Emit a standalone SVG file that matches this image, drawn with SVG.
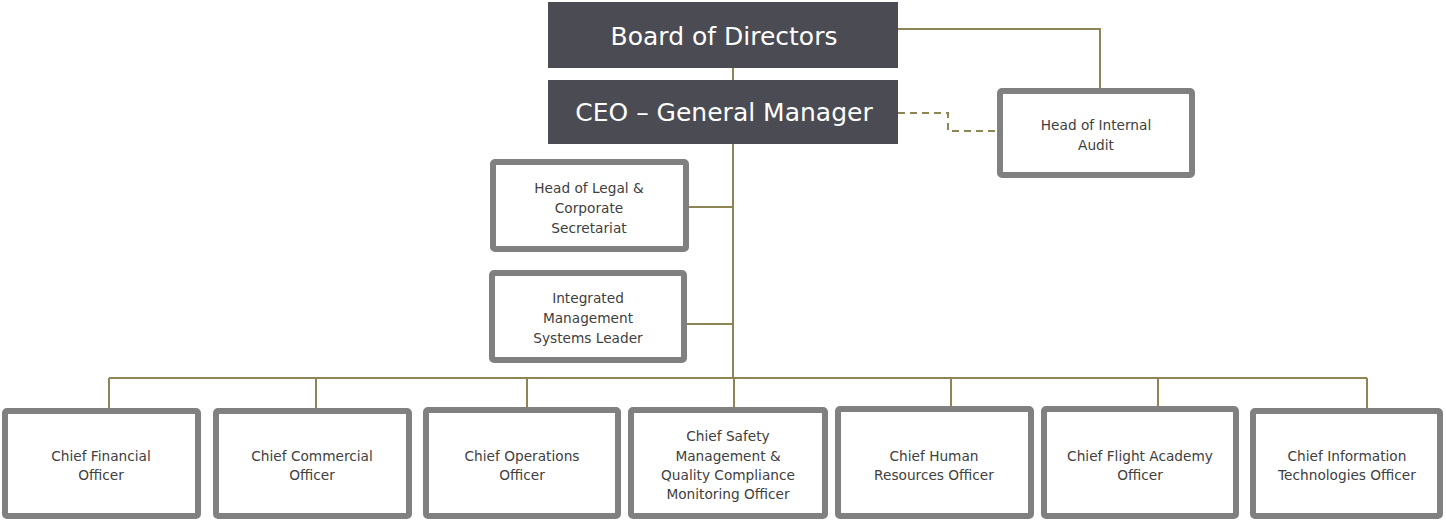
<svg xmlns="http://www.w3.org/2000/svg" width="1446" height="521" viewBox="0 0 1446 521">
<style>
.dark{fill:#4b4b53}
.big{font-family:"DejaVu Sans",Verdana,sans-serif;font-size:25px;fill:#ffffff;text-anchor:middle}
.box{fill:#ffffff;stroke:#808080;stroke-width:6}
.t{font-family:"DejaVu Sans",Verdana,sans-serif;font-size:13.7px;fill:#404040;text-anchor:middle}
.ln{fill:none;stroke:#8e8555;stroke-width:2}
.dash{fill:none;stroke:#8e8555;stroke-width:2;stroke-dasharray:7 5}
</style>
<rect width="1446" height="521" fill="#ffffff"/>
<g id="connectors">
<path class="ln" d="M733 68V80"/>
<path class="ln" d="M898 29H1100V88"/>
<path class="dash" d="M898 113H948V131H997"/>
<path class="ln" d="M733 144V378"/>
<path class="ln" d="M689 207H733"/>
<path class="ln" d="M687 324H733"/>
<path class="ln" d="M109 378H1367"/>
<path class="ln" d="M109 378V408M316 378V408M527 378V407M734 378V407M951 378V406M1158 378V406M1367 378V408"/>
</g>
<g id="board">
<rect class="dark" x="548" y="2" width="350" height="66"/>
<text class="big" x="724" y="45">Board of Directors</text>
</g>
<g id="ceo">
<rect class="dark" x="548" y="80" width="350" height="64"/>
<text class="big" x="724" y="121">CEO – General Manager</text>
</g>
<g id="audit">
<rect class="box" x="1000" y="91" width="192" height="84" rx="2"/>
<text class="t" x="1096" y="130">Head of Internal</text>
<text class="t" x="1096" y="150">Audit</text>
</g>
<g id="legal">
<rect class="box" x="493" y="162" width="193" height="87" rx="2"/>
<text class="t" x="589" y="193">Head of Legal &amp;</text>
<text class="t" x="589" y="213">Corporate</text>
<text class="t" x="589" y="233">Secretariat</text>
</g>
<g id="ims">
<rect class="box" x="492" y="273" width="192" height="87" rx="2"/>
<text class="t" x="588" y="303">Integrated</text>
<text class="t" x="588" y="323">Management</text>
<text class="t" x="588" y="343">Systems Leader</text>
</g>
<g id="cfo">
<rect class="box" x="5" y="411" width="193" height="105" rx="2"/>
<text class="t" x="101" y="461">Chief Financial</text>
<text class="t" x="101" y="480">Officer</text>
</g>
<g id="cco">
<rect class="box" x="216" y="411" width="193" height="105" rx="2"/>
<text class="t" x="312" y="461">Chief Commercial</text>
<text class="t" x="312" y="480">Officer</text>
</g>
<g id="coo">
<rect class="box" x="426" y="410" width="192" height="106" rx="2"/>
<text class="t" x="522" y="461">Chief Operations</text>
<text class="t" x="522" y="480">Officer</text>
</g>
<g id="csm">
<rect class="box" x="631" y="410" width="194" height="106" rx="2"/>
<text class="t" x="728" y="441">Chief Safety</text>
<text class="t" x="728" y="461">Management &amp;</text>
<text class="t" x="728" y="480">Quality Compliance</text>
<text class="t" x="728" y="499">Monitoring Officer</text>
</g>
<g id="chr">
<rect class="box" x="838" y="409" width="193" height="107" rx="2"/>
<text class="t" x="934" y="461">Chief Human</text>
<text class="t" x="934" y="480">Resources Officer</text>
</g>
<g id="cfa">
<rect class="box" x="1044" y="409" width="192" height="107" rx="2"/>
<text class="t" x="1140" y="461">Chief Flight Academy</text>
<text class="t" x="1140" y="480">Officer</text>
</g>
<g id="cit">
<rect class="box" x="1253" y="411" width="187" height="105" rx="2"/>
<text class="t" x="1347" y="461">Chief Information</text>
<text class="t" x="1347" y="480">Technologies Officer</text>
</g>
</svg>
